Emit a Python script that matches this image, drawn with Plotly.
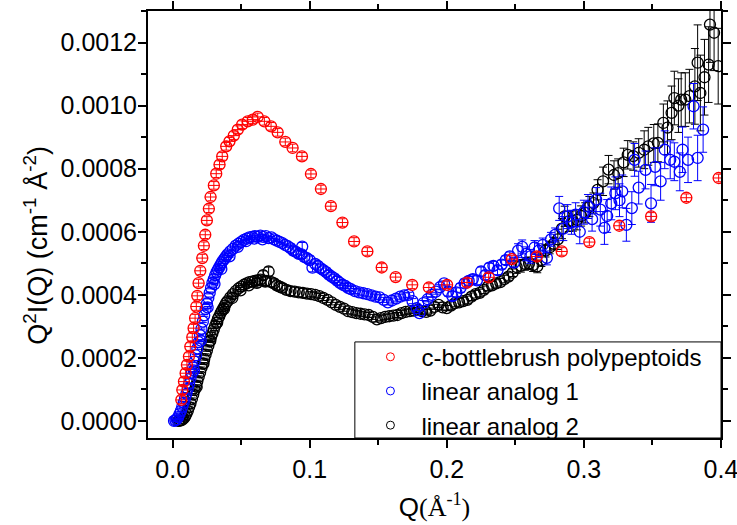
import plotly.graph_objects as go

# ---------------- data ----------------
red_q = [0.00633, 0.00705, 0.00822, 0.00945, 0.0104, 0.01185, 0.01287, 0.01433, 0.01527, 0.01636,
         0.01724, 0.01796, 0.01891, 0.02015, 0.0216, 0.02276, 0.02378, 0.02495, 0.0264, 0.02764,
         0.03004, 0.03178, 0.03418, 0.03615, 0.03905, 0.04145, 0.04458, 0.04749, 0.05069, 0.05476,
         0.0584, 0.06204, 0.06691, 0.07178, 0.07658, 0.08218, 0.08749, 0.09433, 0.10087, 0.10815,
         0.11542, 0.12385, 0.13236, 0.14204, 0.15251, 0.16269, 0.17476, 0.18691, 0.20022, 0.21476,
         0.23055, 0.24749, 0.26567, 0.28385, 0.304, 0.32582, 0.34909, 0.37476, 0.39833]
red_i = [0.667e-4, 0.984e-4, 1.248e-4, 1.514e-4, 1.778e-4, 2.041e-4, 2.359e-4, 2.657e-4, 2.943e-4, 3.260e-4,
         3.629e-4, 3.968e-4, 4.371e-4, 4.762e-4, 5.165e-4, 5.556e-4, 5.905e-4, 6.359e-4, 6.730e-4, 7.102e-4,
         7.470e-4, 7.841e-4, 8.127e-4, 8.390e-4, 8.708e-4, 8.867e-4, 9.048e-4, 9.238e-4, 9.397e-4, 9.502e-4,
         9.556e-4, 9.641e-4, 9.502e-4, 9.343e-4, 9.152e-4, 8.848e-4, 8.657e-4, 8.390e-4, 7.832e-4, 7.356e-4,
         6.810e-4, 6.292e-4, 5.692e-4, 5.375e-4, 4.867e-4, 4.562e-4, 4.317e-4, 4.232e-4, 4.317e-4, 4.390e-4,
         4.556e-4, 5.133e-4, 5.216e-4, 5.375e-4, 5.673e-4, 6.190e-4, 6.486e-4, 7.079e-4, 7.705e-4]
red_err_i = 1.2e-5
red_err_q = 0.0042

blue_q = [0.001, 0.002, 0.003, 0.004, 0.005, 0.006, 0.007, 0.008, 0.009, 0.010,
          0.011, 0.012, 0.013, 0.014, 0.015, 0.016, 0.017, 0.018, 0.019, 0.020,
          0.021, 0.022, 0.023, 0.024, 0.025, 0.026, 0.027, 0.028, 0.029, 0.030,
          0.031, 0.032, 0.033, 0.034, 0.035, 0.036, 0.037, 0.038, 0.039, 0.040,
          0.042, 0.044, 0.046, 0.048, 0.050, 0.052, 0.054, 0.056, 0.058, 0.060,
          0.062, 0.064, 0.066, 0.068, 0.070, 0.072, 0.074, 0.076, 0.078, 0.080,
          0.082, 0.084, 0.086, 0.088, 0.090, 0.092, 0.094, 0.096, 0.098, 0.0945,
          0.100, 0.102, 0.104, 0.106, 0.108, 0.110, 0.112, 0.114, 0.116, 0.118,
          0.120, 0.122, 0.124, 0.126, 0.128, 0.130, 0.133, 0.136, 0.139, 0.142,
          0.145, 0.148, 0.151, 0.154, 0.157, 0.160, 0.163, 0.166, 0.169, 0.172,
          0.175, 0.178, 0.180, 0.183, 0.186, 0.189, 0.192, 0.195, 0.198, 0.201,
          0.204, 0.207, 0.210, 0.213, 0.216, 0.219, 0.222, 0.225, 0.228, 0.231,
          0.234, 0.237, 0.240, 0.243, 0.246, 0.249, 0.252, 0.255, 0.258, 0.261,
          0.264, 0.267, 0.270, 0.273, 0.276, 0.279, 0.282, 0.285, 0.288, 0.291,
          0.294, 0.297, 0.300, 0.303, 0.306, 0.309, 0.312, 0.315, 0.317, 0.320,
          0.323, 0.326, 0.328, 0.331, 0.335, 0.337, 0.340, 0.345, 0.349, 0.352,
          0.356, 0.359, 0.363, 0.366, 0.370, 0.372, 0.376, 0.380, 0.383, 0.387,
          0.0155, 0.0205, 0.0255, 0.0305, 0.0355, 0.0415, 0.0475, 0.0535, 0.0595, 0.0655]
blue_i = [0.00e-4, 0.02e-4, 0.06e-4, 0.12e-4, 0.22e-4, 0.32e-4, 0.45e-4, 0.58e-4, 0.72e-4, 0.86e-4,
          1.02e-4, 1.18e-4, 1.36e-4, 1.52e-4, 1.70e-4, 1.88e-4, 2.08e-4, 2.30e-4, 2.50e-4, 2.72e-4,
          2.92e-4, 3.15e-4, 3.35e-4, 3.55e-4, 3.72e-4, 3.90e-4, 4.06e-4, 4.22e-4, 4.38e-4, 4.50e-4,
          4.62e-4, 4.72e-4, 4.80e-4, 4.88e-4, 4.96e-4, 5.04e-4, 5.10e-4, 5.16e-4, 5.22e-4, 5.28e-4,
          5.38e-4, 5.46e-4, 5.56e-4, 5.62e-4, 5.68e-4, 5.74e-4, 5.78e-4, 5.82e-4, 5.84e-4, 5.86e-4,
          5.84e-4, 5.88e-4, 5.84e-4, 5.86e-4, 5.80e-4, 5.82e-4, 5.76e-4, 5.72e-4, 5.68e-4, 5.64e-4,
          5.58e-4, 5.54e-4, 5.48e-4, 5.40e-4, 5.36e-4, 5.30e-4, 5.28e-4, 5.20e-4, 5.16e-4, 5.53e-4,
          5.10e-4, 4.86e-4, 4.98e-4, 4.92e-4, 4.84e-4, 4.78e-4, 4.72e-4, 4.64e-4, 4.58e-4, 4.52e-4,
          4.45e-4, 4.38e-4, 4.32e-4, 4.28e-4, 4.22e-4, 4.18e-4, 4.12e-4, 4.08e-4, 4.05e-4, 4.02e-4,
          3.98e-4, 3.94e-4, 3.92e-4, 3.84e-4, 3.76e-4, 3.82e-4, 3.88e-4, 3.94e-4, 3.98e-4, 4.00e-4,
          3.80e-4, 3.58e-4, 3.42e-4, 3.74e-4, 3.86e-4, 4.00e-4, 4.10e-4, 4.24e-4, 4.36e-4, 4.10e-4,
          3.96e-4, 4.08e-4, 4.22e-4, 4.36e-4, 4.44e-4, 4.50e-4, 4.46e-4, 4.74e-4, 4.62e-4, 4.86e-4,
          4.92e-4, 4.78e-4, 4.96e-4, 5.10e-4, 5.22e-4, 5.02e-4, 5.40e-4, 5.52e-4, 5.30e-4, 5.22e-4,
          5.50e-4, 5.40e-4, 5.58e-4, 5.17e-4, 5.76e-4, 5.90e-4, 6.74e-4, 6.10e-4, 6.48e-4, 6.30e-4,
          6.54e-4, 6.00e-4, 6.62e-4, 6.80e-4, 6.40e-4, 7.02e-4, 6.70e-4, 6.12e-4, 6.50e-4, 6.90e-4,
          7.22e-4, 7.00e-4, 7.28e-4, 6.22e-4, 6.75e-4, 8.28e-4, 7.40e-4, 7.96e-4, 6.90e-4, 8.06e-4,
          7.60e-4, 8.60e-4, 8.28e-4, 8.22e-4, 7.90e-4, 8.60e-4, 8.28e-4, 9.98e-4, 8.34e-4, 9.24e-4,
          1.60e-4, 2.55e-4, 3.60e-4, 4.34e-4, 4.82e-4, 5.22e-4, 5.52e-4, 5.70e-4, 5.78e-4, 5.76e-4]
# error-bar half height read per Q band (upper band edges)
blue_err_edges = [0.085, 0.12, 0.20, 0.25, 0.28, 0.31, 0.34, 0.37, 0.40]
blue_err_vals = [0.03e-4, 0.13e-4, 0.08e-4, 0.14e-4, 0.22e-4, 0.38e-4, 0.52e-4, 0.60e-4, 0.72e-4]

black_q = [0.004, 0.005, 0.006, 0.007, 0.008, 0.009, 0.010, 0.011, 0.012, 0.013,
           0.014, 0.015, 0.016, 0.017, 0.018, 0.019, 0.020, 0.021, 0.022, 0.023,
           0.024, 0.025, 0.026, 0.027, 0.028, 0.029, 0.030, 0.031, 0.032, 0.033,
           0.034, 0.035, 0.036, 0.037, 0.038, 0.039, 0.040, 0.042, 0.044, 0.046,
           0.048, 0.050, 0.052, 0.054, 0.056, 0.058, 0.060, 0.062, 0.064, 0.066,
           0.068, 0.070, 0.072, 0.074, 0.076, 0.078, 0.080, 0.083, 0.086, 0.089,
           0.092, 0.095, 0.098, 0.101, 0.104, 0.107, 0.110, 0.113, 0.116, 0.119,
           0.122, 0.125, 0.128, 0.131, 0.134, 0.137, 0.140, 0.143, 0.146, 0.149,
           0.152, 0.155, 0.158, 0.161, 0.164, 0.167, 0.170, 0.173, 0.176, 0.179,
           0.182, 0.185, 0.188, 0.191, 0.194, 0.197, 0.200, 0.203, 0.206, 0.209,
           0.212, 0.215, 0.218, 0.221, 0.224, 0.227, 0.230, 0.233, 0.236, 0.239,
           0.242, 0.245, 0.248, 0.251, 0.254, 0.257, 0.260, 0.263, 0.266, 0.269,
           0.272, 0.275, 0.278, 0.281, 0.284, 0.286, 0.289, 0.292, 0.295, 0.298,
           0.301, 0.304, 0.307, 0.310, 0.314, 0.318, 0.322, 0.325, 0.329, 0.332,
           0.336, 0.340, 0.344, 0.347, 0.351, 0.354, 0.358, 0.361, 0.364, 0.366,
           0.369, 0.371, 0.374, 0.377, 0.381, 0.383, 0.385, 0.388, 0.391, 0.392,
           0.395, 0.398,
           0.0175, 0.0225, 0.0275, 0.0325, 0.0375, 0.0435, 0.0495, 0.0555, 0.0615, 0.0675]
black_i = [0.00e-4, 0.01e-4, 0.02e-4, 0.04e-4, 0.08e-4, 0.14e-4, 0.22e-4, 0.32e-4, 0.44e-4, 0.56e-4,
           0.70e-4, 0.84e-4, 0.98e-4, 1.12e-4, 1.26e-4, 1.40e-4, 1.54e-4, 1.68e-4, 1.82e-4, 1.96e-4,
           2.10e-4, 2.24e-4, 2.38e-4, 2.52e-4, 2.66e-4, 2.78e-4, 2.90e-4, 3.02e-4, 3.12e-4, 3.24e-4,
           3.32e-4, 3.42e-4, 3.50e-4, 3.58e-4, 3.66e-4, 3.74e-4, 3.80e-4, 3.92e-4, 4.02e-4, 4.12e-4,
           4.20e-4, 4.26e-4, 4.32e-4, 4.36e-4, 4.40e-4, 4.42e-4, 4.44e-4, 4.46e-4, 4.48e-4, 4.62e-4,
           4.44e-4, 4.74e-4, 4.40e-4, 4.36e-4, 4.30e-4, 4.26e-4, 4.22e-4, 4.16e-4, 4.12e-4, 4.10e-4,
           4.08e-4, 4.06e-4, 4.04e-4, 4.02e-4, 4.00e-4, 3.96e-4, 3.90e-4, 3.84e-4, 3.76e-4, 3.68e-4,
           3.62e-4, 3.56e-4, 3.48e-4, 3.45e-4, 3.42e-4, 3.40e-4, 3.38e-4, 3.36e-4, 3.30e-4, 3.22e-4,
           3.26e-4, 3.30e-4, 3.32e-4, 3.34e-4, 3.36e-4, 3.42e-4, 3.46e-4, 3.48e-4, 3.50e-4, 3.52e-4,
           3.48e-4, 3.46e-4, 3.50e-4, 3.62e-4, 3.68e-4, 3.60e-4, 3.58e-4, 3.66e-4, 3.74e-4, 3.76e-4,
           3.80e-4, 3.84e-4, 3.94e-4, 4.02e-4, 4.06e-4, 4.16e-4, 4.26e-4, 4.30e-4, 4.36e-4, 4.40e-4,
           4.50e-4, 4.58e-4, 4.70e-4, 4.88e-4, 4.92e-4, 4.98e-4, 5.00e-4, 4.94e-4, 4.90e-4, 5.10e-4,
           5.40e-4, 5.50e-4, 5.62e-4, 5.76e-4, 6.10e-4, 6.49e-4, 6.33e-4, 6.34e-4, 6.38e-4, 6.50e-4,
           6.60e-4, 6.80e-4, 6.91e-4, 7.33e-4, 7.60e-4, 7.97e-4, 7.80e-4, 7.86e-4, 8.20e-4, 8.44e-4,
           8.40e-4, 8.50e-4, 8.60e-4, 8.71e-4, 8.80e-4, 8.82e-4, 9.45e-4, 9.30e-4, 9.77e-4, 10.24e-4,
           10.00e-4, 10.19e-4, 10.19e-4, 10.30e-4, 10.61e-4, 11.36e-4, 10.40e-4, 10.90e-4, 11.30e-4, 12.57e-4,
           12.31e-4, 11.25e-4,
           1.08e-4, 1.82e-4, 2.55e-4, 3.12e-4, 3.55e-4, 3.90e-4, 4.14e-4, 4.30e-4, 4.38e-4, 4.42e-4]
black_err_edges = [0.06, 0.1, 0.2, 0.25, 0.28, 0.31, 0.34, 0.36, 0.38, 0.40]
black_err_vals = [0.03e-4, 0.14e-4, 0.08e-4, 0.12e-4, 0.2e-4, 0.32e-4, 0.45e-4, 0.6e-4, 0.85e-4, 1.2e-4]

legend_names = ["c-bottlebrush polypeptoids", "linear analog 1", "linear analog 2"]
colors = ["#FF0000", "#0000FF", "#000000"]

y_ticks = [0.0, 0.0002, 0.0004, 0.0006, 0.0008, 0.0010, 0.0012]
x_ticks = [0.0, 0.1, 0.2, 0.3, 0.4]


def band_lookup(qs, edges, vals):
    out = []
    for q in qs:
        v = vals[-1]
        for e, val in zip(edges, vals):
            if q <= e:
                v = val
                break
        out.append(v)
    return out


blue_err = band_lookup(blue_q, blue_err_edges, blue_err_vals)
black_err = band_lookup(black_q, black_err_edges, black_err_vals)

FONT = "'Liberation Sans', Arial, sans-serif"
MLW = 1.3

fig = go.Figure()


def add_series(q, i, err, color):
    fig.add_trace(go.Scatter(
        x=q, y=i, mode="markers", showlegend=False,
        marker=dict(symbol="circle-open", size=11, color=color, line=dict(width=MLW, color=color)),
        error_y=dict(type="data", array=err, symmetric=True, color=color, thickness=1, width=4),
    ))


add_series(black_q, black_i, black_err, colors[2])
add_series(blue_q, blue_i, blue_err, colors[1])
fig.add_trace(go.Scatter(
    x=red_q, y=red_i, mode="markers", showlegend=False,
    marker=dict(symbol="circle-open", size=11, color=colors[0], line=dict(width=MLW, color=colors[0])),
    error_y=dict(type="constant", value=red_err_i, color=colors[0], thickness=1, width=3),
    error_x=dict(type="constant", value=red_err_q, color=colors[0], thickness=1, width=0),
))

# legend-only entries (small open circles)
for name, c in zip(legend_names, colors):
    fig.add_trace(go.Scatter(
        x=[None], y=[None], mode="markers", name=name,
        marker=dict(symbol="circle-open", size=8, color=c, line=dict(width=1, color=c)),
    ))

axis_common = dict(
    showline=True, linecolor="black", linewidth=2, mirror="ticks",
    ticks="outside", ticklen=8, tickwidth=1.5, tickcolor="black",
    showgrid=False, zeroline=False, ticklabeloverflow="allow",
    tickfont=dict(family=FONT, size=25, color="black"),
)

fig.update_xaxes(
    range=[-0.018, 0.40005], tickvals=x_ticks, tickformat=".1f",
    minor=dict(dtick=0.05, ticks="outside", ticklen=5, tickwidth=1.5, tickcolor="black", showgrid=False),
    title=dict(text="Q<span style=\"font-family:'Liberation Serif','Times New Roman',serif\">(Å<sup>-1</sup>)</span>",
               font=dict(family=FONT, size=26, color="black"), standoff=16),
    **axis_common,
)
fig.update_yaxes(
    range=[-0.000054, 0.0013], tickvals=y_ticks, tickformat=".4f",
    minor=dict(dtick=0.0001, ticks="outside", ticklen=5, tickwidth=1.5, tickcolor="black", showgrid=False),
    ticklabelstandoff=-4,
    **axis_common,
)

# y-axis title placed as rotated annotation
fig.add_annotation(
    text="Q<sup>2</sup>I(Q) (cm<sup>-1</sup> Å<sup>-2</sup>)", xref="paper", yref="paper",
    x=-0.196, y=0.452, xanchor="center", yanchor="middle", textangle=-90, showarrow=False,
    font=dict(family=FONT, size=27, color="black"),
)

fig.add_shape(type="rect", xref="paper", yref="paper", x0=0.361, x1=1.0, y0=0.0, y1=0.225,
              line=dict(color="black", width=1), fillcolor="white", layer="above")

fig.update_layout(
    width=737, height=525,
    margin=dict(l=148, r=16, t=11, b=87, autoexpand=False),
    paper_bgcolor="white", plot_bgcolor="white",
    legend=dict(x=0.369, y=0.242, xanchor="left", yanchor="top",
                bgcolor="rgba(0,0,0,0)", borderwidth=0, itemwidth=52,
                font=dict(family=FONT, size=24, color="black"),
                tracegroupgap=0, itemsizing="trace"),
)

fig.write_html("out.html", config={"displayModeBar": False},
               post_script="document.body.style.margin='0px';document.body.style.padding='0px';")
